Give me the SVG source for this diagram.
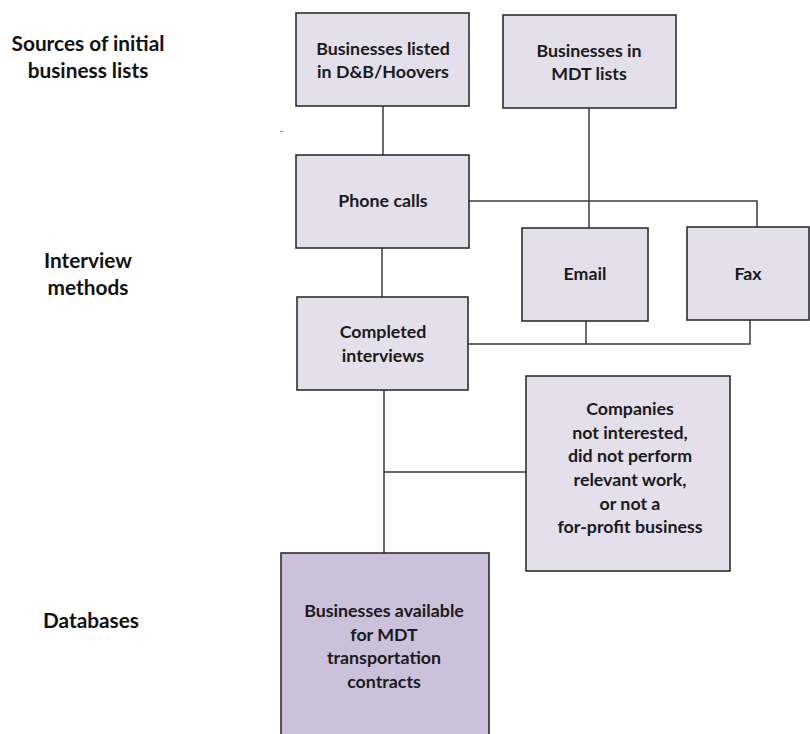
<svg xmlns="http://www.w3.org/2000/svg" width="810" height="734" viewBox="0 0 810 734">
<style>
.box{fill:#e3e0ec;stroke:#2e2e2e;stroke-width:1.6}
.dark{fill:#cbc1db;stroke:#2e2e2e;stroke-width:1.6}
.t{font-family:Lato,"Open Sans","Liberation Sans",sans-serif;font-weight:bold;font-size:17.8px;fill:#1a1a1a;text-anchor:middle}
.lab{font-family:Lato,"Open Sans","Liberation Sans",sans-serif;font-weight:bold;font-size:20.8px;fill:#111;text-anchor:middle}
.c{fill:none;stroke:#3a3a3a;stroke-width:1.5}
</style>
<rect width="810" height="734" fill="#fff"/>
<g id="labels">
<text class="lab" x="88" y="51">Sources of initial</text>
<text class="lab" x="88" y="78">business lists</text>
<text class="lab" x="88" y="268">Interview</text>
<text class="lab" x="88" y="295">methods</text>
<text class="lab" x="91" y="628">Databases</text>
<line x1="280" y1="131.5" x2="283" y2="131.5" stroke="#888" stroke-width="1"/>
</g>
<g id="connectors">
<polyline class="c" points="383,106 383,155"/>
<polyline class="c" points="589,108 589,228"/>
<polyline class="c" points="469,201 757,201 757,227"/>
<polyline class="c" points="382,248 382,297"/>
<polyline class="c" points="468,344 750,344 750,320"/>
<polyline class="c" points="586,321 586,344"/>
<polyline class="c" points="384,390 384,553"/>
<polyline class="c" points="384,472 526,472"/>
</g>
<g id="dnb">
<rect class="box" x="296" y="13" width="173" height="93"/>
<text class="t" x="383" y="55">Businesses listed</text>
<text class="t" x="383" y="78">in D&amp;B/Hoovers</text>
</g>
<g id="mdt">
<rect class="box" x="503" y="15" width="173" height="93"/>
<text class="t" x="589" y="57">Businesses in</text>
<text class="t" x="589" y="80">MDT lists</text>
</g>
<g id="phone">
<rect class="box" x="296" y="155" width="173" height="93"/>
<text class="t" x="383" y="207">Phone calls</text>
</g>
<g id="email">
<rect class="box" x="522" y="228" width="126" height="93"/>
<text class="t" x="585" y="280">Email</text>
</g>
<g id="fax">
<rect class="box" x="687" y="227" width="122" height="93"/>
<text class="t" x="748" y="280">Fax</text>
</g>
<g id="completed">
<rect class="box" x="297" y="297" width="171" height="93"/>
<text class="t" x="383" y="338">Completed</text>
<text class="t" x="383" y="362">interviews</text>
</g>
<g id="companies">
<rect class="box" x="526" y="376" width="204" height="195"/>
<text class="t" x="630" y="415">Companies</text>
<text class="t" x="630" y="439">not interested,</text>
<text class="t" x="630" y="462">did not perform</text>
<text class="t" x="630" y="486">relevant work,</text>
<text class="t" x="630" y="510">or not a</text>
<text class="t" x="630" y="533">for-profit business</text>
</g>
<g id="available">
<rect class="dark" x="281" y="553" width="208" height="190"/>
<text class="t" x="384" y="617">Businesses available</text>
<text class="t" x="384" y="641">for MDT</text>
<text class="t" x="384" y="664">transportation</text>
<text class="t" x="384" y="688">contracts</text>
</g>
</svg>
